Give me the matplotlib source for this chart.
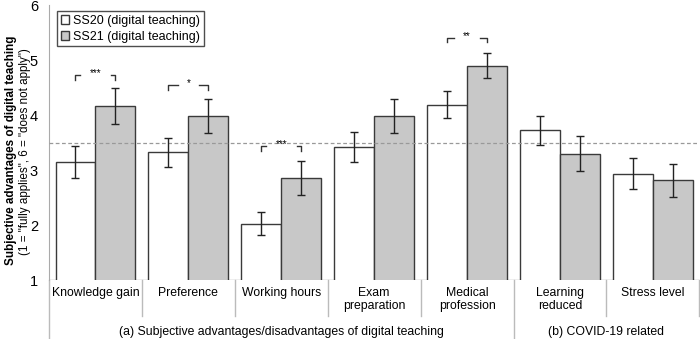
import numpy as np
import matplotlib.pyplot as plt
import matplotlib.transforms as mtransforms

plt.rcParams['font.family'] = ['Liberation Sans', 'DejaVu Sans']

# data
categories = ['Knowledge gain', 'Preference', 'Working hours', 'Exam\npreparation',
              'Medical\nprofession', 'Learning\nreduced', 'Stress level']
ss20 = [3.14, 3.32, 2.02, 3.42, 4.19, 3.72, 2.93]
ss20_err = [0.29, 0.27, 0.21, 0.28, 0.25, 0.27, 0.28]
ss21 = [4.16, 3.99, 2.85, 3.98, 4.90, 3.30, 2.81]
ss21_err = [0.33, 0.31, 0.31, 0.31, 0.23, 0.32, 0.30]
# significance: category index, bracket height, label
sig_idx = [0, 1, 2, 4]
sig_y = [4.73, 4.55, 3.44, 5.41]
sig_txt = ['***', '*', '***', '**']
groups = ['(a) Subjective advantages/disadvantages of digital teaching', '(b) COVID-19 related']
group_span = [(0, 4), (5, 6)]
ref_line = 3.5

fig = plt.figure(figsize=(7, 3.39), dpi=100)
ax = fig.add_axes([0.07, 0.174, 0.929, 0.811])

x = np.arange(len(categories))
w = 0.43
edge = '#3a3a3a'
ax.bar(x - w/2, ss20, w, color='white', edgecolor=edge, linewidth=1,
       label='SS20 (digital teaching)', zorder=2)
ax.bar(x + w/2, ss21, w, color='#c8c8c8', edgecolor=edge, linewidth=1,
       label='SS21 (digital teaching)', zorder=2)
ax.errorbar(x - w/2, ss20, yerr=ss20_err, fmt='none', ecolor='#222222', elinewidth=1,
            capsize=3, capthick=1, zorder=4)
ax.errorbar(x + w/2, ss21, yerr=ss21_err, fmt='none', ecolor='#222222', elinewidth=1,
            capsize=3, capthick=1, zorder=4)

ax.axhline(ref_line, color='#999999', linestyle=(0, (3, 2)), linewidth=0.9, zorder=3)

# significance brackets
for i, yy, t in zip(sig_idx, sig_y, sig_txt):
    x0, x1 = i - w/2, i + w/2
    gap = 0.09 + 0.025 * len(t)
    ax.plot([x0, x0, i - gap], [yy - 0.09, yy, yy], color='#333333', lw=1)
    ax.plot([i + gap, x1, x1], [yy, yy, yy - 0.09], color='#333333', lw=1)
    ax.text(i, yy + 0.03, t, ha='center', va='center', fontsize=7)

ax.set_ylim(1, 6)
ax.set_xlim(-0.5, len(categories) - 0.5)
ax.set_yticks([1, 2, 3, 4, 5, 6])
ax.tick_params(axis='y', length=0, labelsize=10.5, pad=8)
ax.set_xticks([])
for s in ['top', 'right', 'bottom']:
    ax.spines[s].set_visible(False)
ax.spines['left'].set_color('#aaaaaa')
ax.spines['left'].set_bounds(1, 6)
ax.axhline(1, color='#aaaaaa', lw=1, zorder=1)

trans = mtransforms.blended_transform_factory(ax.transData, ax.transAxes)
for i, c in enumerate(categories):
    ax.text(i, -0.025, c, transform=trans, ha='center', va='top', fontsize=8.8,
            linespacing=1.1)

# separators
for b in np.arange(-0.5, len(categories), 1.0):
    if b in (-0.5, 4.5):
        y_end = -0.22
    else:
        y_end = -0.13
    ax.plot([b, b], [0, y_end], transform=trans, color='#bbbbbb', lw=1, clip_on=False)

for g, (a, b) in zip(groups, group_span):
    ax.text((a + b) / 2, -0.19, g, transform=trans, ha='center', va='center', fontsize=8.8)

fig.text(0.016, 0.557, 'Subjective advantages of digital teaching', rotation=90,
         ha='center', va='center', fontsize=8.4, fontweight='bold')
fig.text(0.036, 0.553, '(1 = "fully applies", 6 = "does not apply")', rotation=90,
         ha='center', va='center', fontsize=8.4)

leg = ax.legend(loc='upper left', bbox_to_anchor=(0.012, 0.978), fontsize=9, frameon=True,
                fancybox=False, edgecolor='#222222', handlelength=0.7, handleheight=0.7,
                handletextpad=0.3, borderpad=0.3, labelspacing=0.3, borderaxespad=0)
leg.get_frame().set_linewidth(1)

fig.savefig('out.png', dpi=100)
